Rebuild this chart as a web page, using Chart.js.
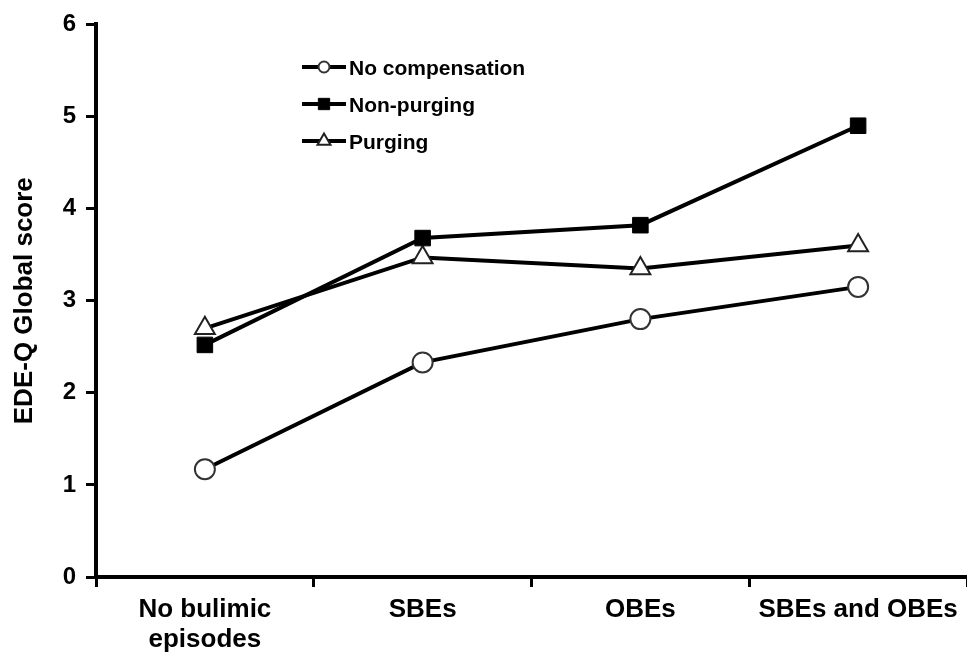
<!DOCTYPE html>
<html>
<head>
<meta charset="utf-8">
<script src="https://cdn.jsdelivr.net/npm/chart.js@4/dist/chart.umd.min.js"></script>
<style>
    html, body { margin: 0; padding: 0; background: #fff; overflow: hidden; }
    #wrap { width: 967px; height: 664px; }
</style>
</head>
<body>
<div id="wrap"><canvas id="chart"></canvas></div>
<script>
// Values.
const categories = [["No bulimic", "episodes"], "SBEs", "OBEs", "SBEs and OBEs"];
const noCompensation = [1.17, 2.33, 2.80, 3.15];
const nonPurging = [2.52, 3.68, 3.82, 4.90];
const purging = [2.70, 3.47, 3.35, 3.60];
const yMin = 0, yMax = 6, yStep = 1;

const fontFamily = "'Liberation Sans', Arial, Helvetica, sans-serif";


/**
 * Draws the legend as a short line with the marker in its middle, like the original figure.
 */
const lineLegend = {
    id: "lineLegend",
    afterDraw(chart, args, opts) {
        const ctx = chart.ctx;
        chart.data.datasets.forEach((ds, i) => {
            const y = opts.top + i * opts.rowGap;
            ctx.save();
            ctx.strokeStyle = ds.borderColor;
            ctx.lineWidth = 4;
            ctx.beginPath();
            ctx.moveTo(opts.left, y);
            ctx.lineTo(opts.left + opts.lineLength, y);
            ctx.stroke();

            ctx.fillStyle = ds.pointBackgroundColor;
            ctx.strokeStyle = ds.pointBorderColor;
            ctx.lineWidth = ds.pointBorderWidth;
            Chart.helpers.drawPoint(ctx, {
                pointStyle: ds.pointStyle,
                rotation: 0,
                radius: opts.markerRadius[i],
                borderWidth: ds.pointBorderWidth
            }, opts.left + opts.lineLength / 2, y);

            ctx.fillStyle = "#000";
            ctx.font = `bold 21px ${fontFamily}`;
            ctx.textBaseline = "middle";
            ctx.fillText(ds.label, opts.left + opts.lineLength + 3, y + 2);
            ctx.restore();
        });
    }
};


new Chart(document.getElementById("chart"), {
    type: "line",
    data: {
        labels: categories,
        datasets: [
            {
                label: "No compensation",
                data: noCompensation,
                borderColor: "#000",
                borderWidth: 4,
                pointStyle: "circle",
                pointRadius: 10,
                pointBackgroundColor: "#fff",
                pointBorderColor: "#333",
                pointBorderWidth: 2
            },
            {
                label: "Non-purging",
                data: nonPurging,
                borderColor: "#000",
                borderWidth: 4,
                pointStyle: "rect",
                pointRadius: 11,
                pointBackgroundColor: "#000",
                pointBorderColor: "#000",
                pointBorderWidth: 1
            },
            {
                label: "Purging",
                data: purging,
                borderColor: "#000",
                borderWidth: 4,
                pointStyle: "triangle",
                pointRadius: 11.5,
                pointBackgroundColor: "#fff",
                pointBorderColor: "#222",
                pointBorderWidth: 2
            }
        ]
    },
    options: {
        responsive: true,
        maintainAspectRatio: false,
        animation: false,
        layout: { autoPadding: false, padding: { top: 22, right: 0, bottom: 0, left: 0 } },
        plugins: {
            legend: { display: false },
            tooltip: { enabled: false },
            lineLegend: {
                left: 302,
                top: 67,
                rowGap: 37,
                lineLength: 44,
                markerRadius: [5.5, 8, 7.5]
            }
        },
        scales: {
            x: {
                offset: true,
                border: { display: true, color: "#000", width: 4 },
                grid: {
                    display: true,
                    offset: true,
                    drawOnChartArea: false,
                    drawTicks: true,
                    tickLength: 10,
                    color: "#000",
                    lineWidth: 3
                },
                ticks: {
                    color: "#000",
                    autoSkip: false,
                    maxRotation: 0,
                    padding: 8,
                    font: { family: fontFamily, size: 26, weight: "bold", lineHeight: 1.15 }
                },
                afterFit(scale) {
                    scale.height = 87;
                    // let the last category run to the right edge, as in the original
                    scale.paddingLeft = 0;
                    scale.paddingRight = 0;
                }
            },
            y: {
                min: yMin,
                max: yMax,
                border: { display: true, color: "#000", width: 4 },
                grid: {
                    display: true,
                    drawOnChartArea: false,
                    drawTicks: true,
                    tickLength: 10,
                    color: "#000",
                    lineWidth: 3
                },
                ticks: {
                    stepSize: yStep,
                    color: "#000",
                    padding: 10,
                    font: { family: fontFamily, size: 24, weight: "bold" }
                },
                title: {
                    display: true,
                    text: "EDE-Q Global score",
                    color: "#000",
                    padding: { top: 9, bottom: 0 },
                    font: { family: fontFamily, size: 26, weight: "bold" }
                },
                afterFit(scale) { scale.width = 96; }
            }
        }
    },
    plugins: [lineLegend]
});
</script>
</body>
</html>
